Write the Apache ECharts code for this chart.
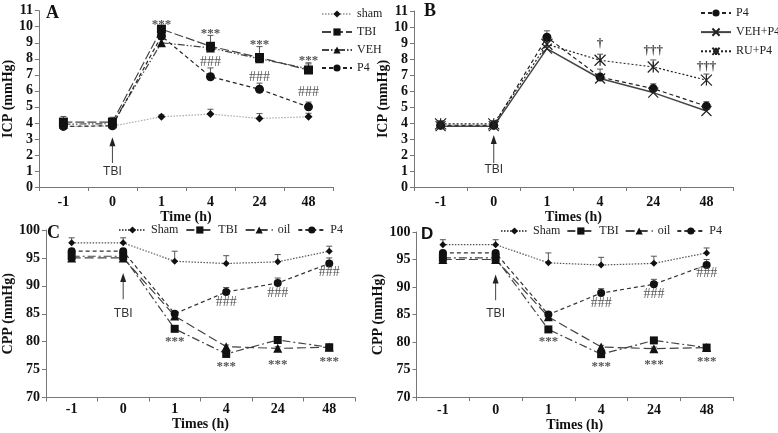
<!DOCTYPE html>
<html><head><meta charset="utf-8">
<script src="https://cdn.jsdelivr.net/npm/echarts@6/dist/echarts.min.js"></script>
<style>html,body{margin:0;padding:0;background:#fff}#c{width:778px;height:433px}</style>
</head><body><div id="c"></div>
<script>
// ---------- DATA ----------
const categories = ['-1', '0', '1', '4', '24', '48'];

// Panel A: ICP
const aSham = [3.78, 3.80, 4.38, 4.55, 4.28, 4.38];
const aShamErr = [0.2, 0.2, 0.12, 0.3, 0.3, 0.22];
const aTBI = [4.05, 4.05, 9.85, 8.78, 8.08, 7.30];
const aTBIErr = [0.35, 0.3, 0.15, 0.68, 0.68, 0.45];
const aVEH = [3.92, 3.95, 9.00, 8.68, 8.00, 7.38];
const aVEHErr = [0.3, 0.3, 0.2, 0.3, 0.3, 0.3];
const aP4 = [3.78, 3.82, 9.42, 6.88, 6.10, 5.00];
const aP4Err = [0.25, 0.25, 0.2, 0.55, 0.38, 0.3];
const aStars = [null, null, 10.3, 9.75, 9.05, 8.1];
const aHash = [null, null, null, 7.8, 6.82, 5.9];
const aArrow = [3.1, 1.5, 0.95]; // tip, tail, label

// Panel B: ICP
const bP4 = [3.85, 3.85, 9.36, 6.87, 6.15, 5.05];
const bP4Err = [0.25, 0.25, 0.4, 0.5, 0.3, 0.28];
const bVEHP4 = [3.80, 3.80, 8.65, 6.78, 5.90, 4.75];
const bVEHP4Err = [0.2, 0.2, 0.2, 0.2, 0.2, 0.2];
const bRUP4 = [3.95, 3.95, 8.92, 7.92, 7.50, 6.68];
const bRUP4Err = [0.2, 0.2, 0.2, 0.38, 0.44, 0.38];
const bDagger = [null, null, null, 8.97, 8.5, 7.55];
const bDaggerText = ['', '', '', '†', '†††', '†††'];
const bArrow = [3.25, 1.5, 1.1];

// Panels C and D: CPP
const cSham = [97.7, 97.7, 94.4, 94.0, 94.3, 96.2];
const cShamErr = [0.9, 0.9, 1.8, 1.4, 1.3, 0.9];
const cTBI = [95.3, 95.3, 82.3, 77.8, 80.3, 79.0];
const cTBIErr = [0.3, 0.3, 0.3, 0.3, 0.3, 0.3];
const cOil = [95.0, 95.0, 84.6, 79.1, 78.8, 79.0];
const cOilErr = [0.3, 0.3, 0.3, 0.3, 0.3, 0.5];
const cP4 = [96.2, 96.2, 85.0, 88.9, 90.5, 94.0];
const cP4Err = [0.4, 0.4, 0.4, 0.8, 0.9, 1.0];
const cStars = [null, null, 80.6, 76.1, 76.5, 76.9];
const cHash = [null, null, null, 87.0, 88.6, 92.4];
const cArrow = [92.3, 87.6, 85.1];

// ---------- HELPERS ----------
const SERIF = '"Liberation Serif", "Times New Roman", serif';
const SANS = '"Liberation Sans", Arial, sans-serif';
const AX = '#777';

function lineSeries(name, g, data, symbol, size, dash, color, width) {
  return {
    name: name, type: 'line', xAxisIndex: g, yAxisIndex: g, data: data,
    symbol: symbol, symbolSize: size, z: 5,
    lineStyle: { color: color, width: width || 1.2, type: dash },
    itemStyle: { color: '#111', borderColor: '#111', borderWidth: 0 }
  };
}
function strokeSeries(name, g, data, symbol, size, dash, color, width) {
  return {
    name: name, type: 'line', xAxisIndex: g, yAxisIndex: g, data: data,
    symbol: symbol, symbolSize: size, z: 5,
    lineStyle: { color: color, width: width || 1.2, type: dash },
    itemStyle: { color: 'none', borderColor: '#222', borderWidth: 1.2 }
  };
}
function errSeries(g, vals, errs) {
  return {
    type: 'custom', xAxisIndex: g, yAxisIndex: g, z: 3, silent: true,
    data: vals.map((v, i) => [i, v, errs[i]]),
    renderItem: function (params, api) {
      const x = api.value(0), y = api.value(1), e = api.value(2);
      const p0 = api.coord([x, y]), p1 = api.coord([x, y + e]);
      return { type: 'group', children: [
        { type: 'line', shape: { x1: p0[0], y1: p0[1], x2: p1[0], y2: p1[1] }, style: { stroke: '#555', lineWidth: 1 } },
        { type: 'line', shape: { x1: p1[0] - 3, y1: p1[1], x2: p1[0] + 3, y2: p1[1] }, style: { stroke: '#555', lineWidth: 1 } }
      ]};
    }
  };
}
function textSeries(g, ys, texts, font, color, dy) {
  const data = [];
  ys.forEach((v, i) => { if (v !== null) data.push([i, v]); });
  return {
    type: 'custom', xAxisIndex: g, yAxisIndex: g, z: 6, silent: true,
    data: data,
    renderItem: function (params, api) {
      const i = api.value(0);
      const p = api.coord([i, api.value(1)]);
      const t = Array.isArray(texts) ? texts[i] : texts;
      return { type: 'text', x: p[0], y: p[1] + (dy || 0),
        style: { text: t, font: font, fill: color, align: 'center', verticalAlign: 'middle' } };
    }
  };
}
function arrowSeries(g, arr) {
  return {
    type: 'custom', xAxisIndex: g, yAxisIndex: g, z: 6, silent: true,
    data: [[1, arr[0], arr[1], arr[2]]],
    renderItem: function (params, api) {
      const c = api.value(0);
      const tip = api.coord([c, api.value(1)]);
      const tail = api.coord([c, api.value(2)]);
      const lab = api.coord([c, api.value(3)]);
      return { type: 'group', children: [
        { type: 'line', shape: { x1: tail[0], y1: tail[1], x2: tip[0], y2: tip[1] + 6 }, style: { stroke: '#444', lineWidth: 1 } },
        { type: 'polygon', shape: { points: [[tip[0], tip[1]], [tip[0] - 3, tip[1] + 9], [tip[0] + 3, tip[1] + 9]] }, style: { fill: '#222' } },
        { type: 'text', x: lab[0], y: lab[1], style: { text: 'TBI', font: '12px ' + SANS, fill: '#333', align: 'center', verticalAlign: 'middle' } }
      ]};
    }
  };
}
function xAx(g, name, gap, margin) {
  return {
    type: 'category', gridIndex: g, data: categories,
    name: name, nameLocation: 'middle', nameGap: gap,
    nameTextStyle: { fontFamily: SERIF, fontWeight: 'bold', fontSize: 14, color: '#111' },
    axisLine: { lineStyle: { color: AX, width: 1 } },
    axisTick: { show: true, length: 4, lineStyle: { color: AX } },
    axisLabel: { fontFamily: SERIF, fontWeight: 'bold', fontSize: 14, color: '#111', margin: margin },
    splitLine: { show: false }
  };
}
function yAx(g, name, min, max, interval, gap) {
  return {
    type: 'value', gridIndex: g, min: min, max: max, interval: interval,
    name: name, nameLocation: 'middle', nameGap: gap, nameRotate: 90,
    nameTextStyle: { fontFamily: SERIF, fontWeight: 'bold', fontSize: 14, color: '#111' },
    axisLine: { show: true, lineStyle: { color: AX, width: 1 } },
    axisTick: { show: true, length: 4, lineStyle: { color: AX } },
    axisLabel: { fontFamily: SERIF, fontWeight: 'bold', fontSize: 14, color: '#111', margin: 6 },
    splitLine: { show: false }
  };
}
const fmt = n => n.split('|')[1];
const legText = { fontFamily: SERIF, fontSize: 12, color: '#222', lineHeight: 12 };

const DARK = '#444';
const asterisk = 'path://M0,0L10,10M10,0L0,10M5,0L5,10';
const cross = 'path://M0,0L10,10M10,0L0,10';

const option = {
  animation: false,
  backgroundColor: '#fff',
  grid: [
    { left: 35, top: 10.7, width: 298, height: 176.3 },
    { left: 414, top: 11, width: 319, height: 176 },
    { left: 35, top: 230, width: 320, height: 167.5 },
    { left: 416.5, top: 232, width: 316.5, height: 168 }
  ],
  xAxis: [xAx(0, 'Time (h)', 15, 8), xAx(1, 'Times (h)', 18, 8), xAx(2, 'Times (h)', 20, 5), xAx(3, 'Times (h)', 19, 6)],
  yAxis: [yAx(0, 'ICP (mmHg)', 0, 11, 1, 21), yAx(1, 'ICP (mmHg)', 0, 11, 1, 24),
          yAx(2, 'CPP (mmHg)', 70, 100, 5, 21), yAx(3, 'CPP (mmHg)', 70, 100, 5, 25)],
  legend: [
    { orient: 'vertical', left: 321, top: 8, padding: 0, itemWidth: 30, itemHeight: 9, itemGap: 6, formatter: fmt, textStyle: legText,
      data: ['A|sham', 'A|TBI', 'A|VEH', 'A|P4'] },
    { orient: 'vertical', left: 700, top: 7, padding: 0, itemWidth: 30, itemHeight: 9, itemGap: 7, formatter: fmt, textStyle: legText,
      data: ['B|P4', 'B|VEH+P4', 'B|RU+P4'] },
    { orient: 'horizontal', left: 118, top: 224, padding: 0, itemWidth: 27, itemHeight: 9, itemGap: 7, formatter: fmt, textStyle: legText,
      data: ['C|Sham', 'C|TBI', 'C|oil', 'C|P4'] },
    { orient: 'horizontal', left: 500, top: 225, padding: 0, itemWidth: 27, itemHeight: 9, itemGap: 6, formatter: fmt, textStyle: legText,
      data: ['D|Sham', 'D|TBI', 'D|oil', 'D|P4'] }
  ],
  graphic: [
    { type: 'text', left: 46, top: 4, style: { text: 'A', font: 'bold 18px ' + SERIF, fill: '#111' } },
    { type: 'text', left: 424, top: 2, style: { text: 'B', font: 'bold 18px ' + SERIF, fill: '#111' } },
    { type: 'text', left: 47, top: 224, style: { text: 'C', font: 'bold 18px ' + SERIF, fill: '#111' } },
    { type: 'text', left: 421, top: 226, style: { text: 'D', font: 'bold 17px ' + SANS, fill: '#111' } }
  ],
  series: [
    // A
    errSeries(0, aSham, aShamErr), errSeries(0, aTBI, aTBIErr), errSeries(0, aVEH, aVEHErr), errSeries(0, aP4, aP4Err),
    lineSeries('A|sham', 0, aSham, 'diamond', 8, [1.5, 1.5], '#aaa'),
    lineSeries('A|VEH', 0, aVEH, 'triangle', 9, [7, 2, 1.5, 2, 1.5, 2], DARK),
    lineSeries('A|P4', 0, aP4, 'circle', 9, [4, 3], '#222'),
    lineSeries('A|TBI', 0, aTBI, 'rect', 9, [9, 3], DARK),
    textSeries(0, aStars, '***', 'bold 13px ' + SERIF, '#555', 3),
    textSeries(0, aHash, '###', '14px ' + SERIF, '#555', 0),
    arrowSeries(0, aArrow),
    // B
    errSeries(1, bP4, bP4Err), errSeries(1, bVEHP4, bVEHP4Err), errSeries(1, bRUP4, bRUP4Err),
    lineSeries('B|P4', 1, bP4, 'circle', 9, [4, 3], '#222'),
    strokeSeries('B|VEH+P4', 1, bVEHP4, cross, 10, 'solid', '#444', 1.5),
    strokeSeries('B|RU+P4', 1, bRUP4, asterisk, 11, [2, 2], '#222'),
    textSeries(1, bDagger, bDaggerText, 'bold 13px ' + SERIF, '#444', 0),
    arrowSeries(1, bArrow),
    // C
    errSeries(2, cSham, cShamErr), errSeries(2, cTBI, cTBIErr), errSeries(2, cOil, cOilErr), errSeries(2, cP4, cP4Err),
    lineSeries('C|Sham', 2, cSham, 'diamond', 7, [1.5, 1.5], '#555'),
    lineSeries('C|P4', 2, cP4, 'circle', 8, [4, 3], '#333'),
    lineSeries('C|oil', 2, cOil, 'triangle', 9, [9, 4], DARK),
    lineSeries('C|TBI', 2, cTBI, 'rect', 8, [8, 3, 2, 3], DARK),
    textSeries(2, cStars, '***', 'bold 13px ' + SERIF, '#555', 3),
    textSeries(2, cHash, '###', '14px ' + SERIF, '#555', 0),
    arrowSeries(2, cArrow),
    // D
    errSeries(3, cSham, cShamErr), errSeries(3, cTBI, cTBIErr), errSeries(3, cOil, cOilErr), errSeries(3, cP4, cP4Err),
    lineSeries('D|Sham', 3, cSham, 'diamond', 7, [1.5, 1.5], '#555'),
    lineSeries('D|P4', 3, cP4, 'circle', 8, [4, 3], '#333'),
    lineSeries('D|oil', 3, cOil, 'triangle', 9, [9, 4], DARK),
    lineSeries('D|TBI', 3, cTBI, 'rect', 8, [8, 3, 2, 3], DARK),
    textSeries(3, cStars, '***', 'bold 13px ' + SERIF, '#555', 3),
    textSeries(3, cHash, '###', '14px ' + SERIF, '#555', 0),
    arrowSeries(3, cArrow)
  ]
};
const chart = echarts.init(document.getElementById('c'), null, { renderer: 'canvas' });
chart.setOption(option);
</script>
</body></html>
